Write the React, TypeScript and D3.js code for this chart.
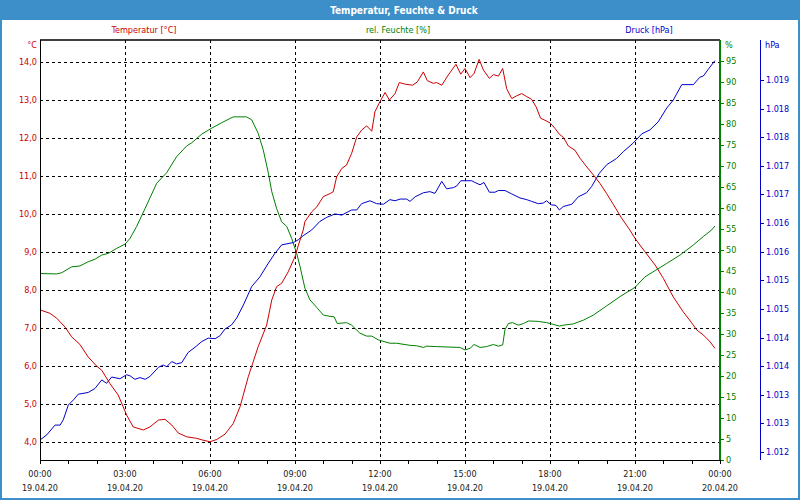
import React from "react";
import * as d3 from "d3";

const tempHours = [0,0.35,0.59,0.88,1.12,1.41,1.7,2,2.18,2.47,2.76,3.06,3.29,3.65,3.88,4.18,4.41,4.65,4.88,5.18,5.53,5.76,6,6.24,6.53,6.82,7.06,7.35,7.7,8,8.18,8.35,8.53,8.76,9,9.12,9.29,9.35,9.59,9.77,10,10.24,10.35,10.47,10.65,10.82,11,11.18,11.35,11.53,11.71,11.82,12,12.18,12.33,12.53,12.68,12.88,13.15,13.32,13.53,13.67,13.88,14,14.18,14.41,14.68,14.85,15,15.18,15.32,15.5,15.65,15.86,16,16.18,16.33,16.47,16.65,16.82,17,17.18,17.35,17.51,17.67,17.82,18,18.18,18.33,18.47,18.65,18.88,19.06,19.3,19.53,19.76,20,20.23,20.53,20.82,21,21.35,21.71,22,22.35,22.7,23,23.18,23.41,23.65,23.82];
const tempValues = [7.48,7.39,7.26,7.03,6.77,6.57,6.24,6.0,5.89,5.54,5.24,4.71,4.4,4.32,4.4,4.58,4.6,4.45,4.24,4.14,4.1,4.05,4.01,4.07,4.21,4.49,4.93,5.72,6.51,7.08,7.74,8.09,8.18,8.48,8.88,9.18,9.58,9.8,10.06,10.19,10.46,10.54,10.59,10.98,11.2,11.29,11.6,12.03,12.21,12.32,12.18,12.69,12.96,13.2,13.0,13.17,13.46,13.42,13.39,13.48,13.74,13.51,13.44,13.46,13.39,13.66,13.94,13.68,13.83,13.59,13.7,14.07,13.79,13.57,13.67,13.63,13.83,13.3,13.04,13.11,13.17,13.09,13.02,12.82,12.52,12.47,12.4,12.25,12.1,12.02,11.79,11.68,11.47,11.24,11.03,10.81,10.54,10.26,9.89,9.58,9.36,9.01,8.66,8.31,7.82,7.43,7.14,6.95,6.82,6.64,6.47];

const humHours = [0,0.59,0.77,1.12,1.41,1.7,1.94,2.18,2.41,2.71,3,3.18,3.41,3.71,4.12,4.47,4.82,5.18,5.35,5.71,6.06,6.41,6.82,7.29,7.47,7.7,7.88,8.06,8.18,8.35,8.53,8.71,8.88,9.06,9.18,9.35,9.53,9.77,10,10.24,10.38,10.49,10.82,11,11.29,11.53,11.71,11.94,12.35,12.59,13.06,13.29,13.53,13.65,14,14.82,15,15.18,15.32,15.53,15.76,16,16.18,16.33,16.41,16.53,16.68,16.88,17.06,17.24,17.59,17.88,18.06,18.33,18.47,18.82,19.18,19.53,20,20.47,21,21.35,21.71,22.12,22.59,23.06,23.41,23.71,23.82];
const humValues = [44.4,44.3,44.6,46.0,46.2,47.2,47.8,48.8,49.2,50.4,51.4,52.8,55.6,59.9,65.9,68.4,72.2,74.8,75.5,77.6,79.0,80.3,81.7,81.7,81.0,77.8,73.8,68.3,63.9,59.9,56.7,55.6,52.8,49.2,46.0,40.9,38.1,36.3,34.5,34.2,34.1,32.5,32.7,32.1,30.2,29.5,29.5,28.6,27.8,27.8,27.3,27.2,26.8,27.1,27.0,26.8,26.2,26.6,27.5,26.8,27.0,27.5,27.1,27.4,31.0,32.5,32.7,32.1,32.5,33.1,33.0,32.7,32.4,31.9,32.1,32.4,33.3,34.5,36.7,38.9,41.1,43.6,45.1,46.8,48.8,51.2,53.2,54.8,55.7];

const presHours = [0,0.24,0.53,0.71,0.82,1,1.18,1.35,1.7,1.94,2.18,2.35,2.53,2.82,3.06,3.18,3.35,3.53,3.71,3.88,4.18,4.35,4.47,4.65,4.82,5,5.23,5.47,5.71,5.94,6.18,6.35,6.53,6.76,6.94,7.18,7.47,7.76,8.06,8.29,8.53,8.94,9.12,9.29,9.59,9.88,10.12,10.41,10.65,11,11.18,11.35,11.65,11.88,12.12,12.35,12.53,12.71,12.94,13.06,13.24,13.53,13.76,13.94,14.18,14.35,14.59,14.71,14.85,15.24,15.35,15.53,15.67,15.86,16.06,16.18,16.41,16.65,16.94,17.18,17.35,17.59,17.76,17.88,18.04,18.21,18.33,18.47,18.77,19,19.29,19.47,19.74,20,20.35,20.59,20.94,21.24,21.53,21.82,22.12,22.35,22.65,23.06,23.29,23.41,23.59,23.82];
const presValues = [1012.21,1012.3,1012.47,1012.47,1012.56,1012.82,1012.91,1013.01,1013.04,1013.11,1013.26,1013.2,1013.31,1013.28,1013.35,1013.33,1013.27,1013.3,1013.27,1013.32,1013.48,1013.52,1013.49,1013.58,1013.54,1013.56,1013.74,1013.83,1013.93,1013.99,1013.98,1014.03,1014.15,1014.22,1014.34,1014.57,1014.89,1015.06,1015.3,1015.47,1015.62,1015.66,1015.71,1015.78,1015.88,1016.03,1016.1,1016.16,1016.14,1016.23,1016.23,1016.34,1016.39,1016.34,1016.33,1016.41,1016.39,1016.42,1016.42,1016.38,1016.46,1016.53,1016.55,1016.52,1016.73,1016.6,1016.62,1016.65,1016.74,1016.74,1016.71,1016.67,1016.71,1016.54,1016.54,1016.57,1016.57,1016.51,1016.44,1016.41,1016.38,1016.34,1016.35,1016.39,1016.32,1016.31,1016.23,1016.29,1016.33,1016.46,1016.53,1016.64,1016.87,1017.02,1017.13,1017.25,1017.4,1017.56,1017.63,1017.77,1018.01,1018.15,1018.42,1018.42,1018.55,1018.57,1018.69,1018.84];

const tempTicks = [4, 5, 6, 7, 8, 9, 10, 11, 12, 13, 14];
const humTicks = [0, 5, 10, 15, 20, 25, 30, 35, 40, 45, 50, 55, 60, 65, 70, 75, 80, 85, 90, 95];
const presTicks = [1012, 1012.5, 1013, 1013.5, 1014, 1014.5, 1015, 1015.5, 1016, 1016.5, 1017, 1017.5, 1018, 1018.5];
const hourTicks = [0, 1, 2, 3, 4, 5, 6, 7, 8, 9, 10, 11, 12, 13, 14, 15, 16, 17, 18, 19, 20, 21, 22, 23, 24];
const timeLabels = ["00:00", "03:00", "06:00", "09:00", "12:00", "15:00", "18:00", "21:00", "00:00"];
const dateLabels = ["19.04.20", "19.04.20", "19.04.20", "19.04.20", "19.04.20", "19.04.20", "19.04.20", "19.04.20", "20.04.20"];

const title = "Temperatur, Feuchte & Druck";
const seriesNames = ["Temperatur [°C]", "rel. Feuchte [%]", "Druck [hPa]"];

const FONT = "'DejaVu Sans Condensed', 'DejaVu Sans', sans-serif";
const RED = "#cc0000";
const GREEN = "#008000";
const BLUE = "#0000cc";
const FRAME = "#3c8fc8";

export default function App() {
  const L = 40, R = 720, T = 40, B = 460;
  const x = d3.scaleLinear().domain([0, 24]).range([L, R]);
  const yT = d3.scaleLinear().domain([3.53, 14.58]).range([B, T]);
  const yH = d3.scaleLinear().domain([0, 100]).range([B, T]);
  const yP = d3.scaleLinear().domain([1011.86, 1019.2]).range([B, T]);

  const lineT = d3.line<number>().x((_, i) => x(tempHours[i])).y((d) => yT(d));
  const lineH = d3.line<number>().x((_, i) => x(humHours[i])).y((d) => yH(d));
  const lineP = d3.line<number>().x((_, i) => x(presHours[i])).y((d) => yP(d));

  const fmtT = (v: number) => d3.format(".1f")(v).replace(".", ",");
  const fmtP = (v: number) => {
    const r = Math.round(v);
    return `${Math.floor(r / 1000)}.${String(r % 1000).padStart(3, "0")}`;
  };

  const seriesX = [144, 398, 649];
  const seriesColors = [RED, GREEN, BLUE];
  const fs = 9;

  return (
    <svg width={800} height={500} style={{ position: "absolute", left: 0, top: 0 }} fontFamily={FONT} fontStretch="condensed">
      <rect x={0} y={0} width={800} height={500} fill="#ffffff" />
      <rect x={0} y={0} width={800} height={20} fill={FRAME} />
      <rect x={1} y={1} width={798} height={498} fill="none" stroke={FRAME} strokeWidth={2} />
      <text x={404} y={10} fill="#ffffff" fontWeight="bold" fontSize={10} textAnchor="middle" dominantBaseline="central">{title}</text>

      {seriesNames.map((s, i) => (
        <text key={s} x={seriesX[i]} y={30} fill={seriesColors[i]} fontSize={fs} textAnchor="middle" dominantBaseline="central">{s}</text>
      ))}

      {/* grid */}
      {tempTicks.map((t) => (
        <line key={"gh" + t} x1={L} x2={R} y1={Math.round(yT(t)) + 0.5} y2={Math.round(yT(t)) + 0.5} stroke="#000" strokeDasharray="3,3" strokeWidth={1} />
      ))}
      {hourTicks.filter((h) => h % 3 === 0 && h > 0 && h < 24).map((h) => (
        <line key={"gv" + h} x1={Math.round(x(h)) + 0.5} x2={Math.round(x(h)) + 0.5} y1={T} y2={B} stroke="#000" strokeDasharray="3,3" strokeWidth={1} />
      ))}

      {/* lines */}
      <path d={lineH(humValues) || ""} fill="none" stroke={GREEN} strokeWidth={1} />
      <path d={lineP(presValues) || ""} fill="none" stroke={BLUE} strokeWidth={1} />
      <path d={lineT(tempValues) || ""} fill="none" stroke={RED} strokeWidth={1} />

      {/* frame axes */}
      <line x1={L} x2={R} y1={T} y2={T} stroke="#000" strokeWidth={1.5} />
      <line x1={L} x2={R} y1={B + 0.5} y2={B + 0.5} stroke="#000" strokeWidth={1} />
      <line x1={L + 0.5} x2={L + 0.5} y1={T} y2={B} stroke="#000" strokeWidth={1} />
      <line x1={R} x2={R} y1={T} y2={B} stroke={GREEN} strokeWidth={2} />
      <line x1={760.5} x2={760.5} y1={T} y2={B} stroke={BLUE} strokeWidth={1} />

      {/* left axis */}
      <text x={37} y={45} fill={RED} fontSize={fs} textAnchor="end" dominantBaseline="central">°C</text>
      {tempTicks.map((t) => (
        <text key={"tl" + t} x={37} y={yT(t)} fill={RED} fontSize={fs} textAnchor="end" dominantBaseline="central">{fmtT(t)}</text>
      ))}

      {/* humidity axis */}
      <text x={725} y={45} fill={GREEN} fontSize={fs} dominantBaseline="central">%</text>
      {humTicks.map((t) => (
        <g key={"hl" + t}>
          <line x1={R} x2={R + 4} y1={Math.round(yH(t)) + 0.5} y2={Math.round(yH(t)) + 0.5} stroke={GREEN} strokeWidth={1} />
          <text x={726} y={yH(t)} fill={GREEN} fontSize={fs} dominantBaseline="central">{t}</text>
        </g>
      ))}

      {/* pressure axis */}
      <text x={765} y={45} fill={BLUE} fontSize={fs} dominantBaseline="central">hPa</text>
      {presTicks.map((t) => (
        <g key={"pl" + t}>
          <line x1={760} x2={764} y1={Math.round(yP(t)) + 0.5} y2={Math.round(yP(t)) + 0.5} stroke={BLUE} strokeWidth={1} />
          <text x={766} y={yP(t)} fill={BLUE} fontSize={fs} dominantBaseline="central">{fmtP(t)}</text>
        </g>
      ))}

      {/* bottom axis */}
      {hourTicks.map((h) => (
        <line key={"bt" + h} x1={Math.round(x(h)) + 0.5} x2={Math.round(x(h)) + 0.5} y1={B} y2={B + 4} stroke="#000" strokeWidth={1} />
      ))}
      {timeLabels.map((t, i) => (
        <g key={"xl" + i}>
          <text x={x(i * 3)} y={474} fill="#222" fontSize={fs} textAnchor="middle" dominantBaseline="central">{t}</text>
          <text x={x(i * 3)} y={488} fill="#222" fontSize={fs} textAnchor="middle" dominantBaseline="central">{dateLabels[i]}</text>
        </g>
      ))}
    </svg>
  );
}
